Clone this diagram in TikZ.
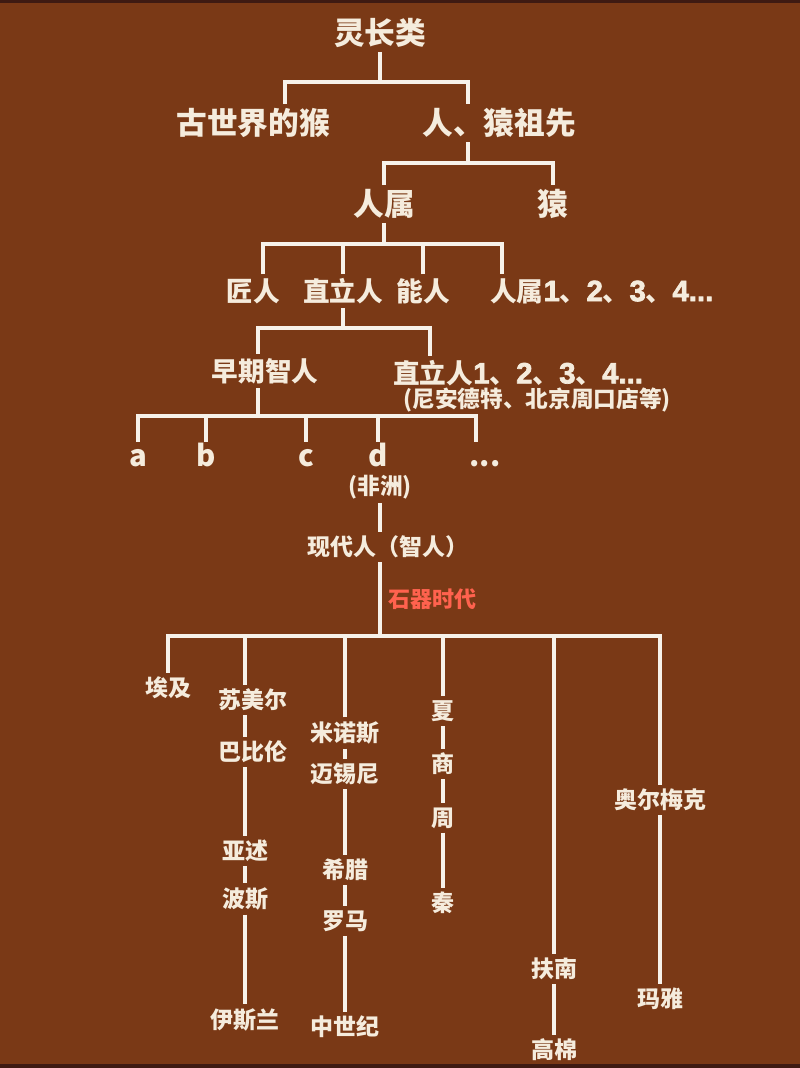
\documentclass[tikz,border=0pt]{standalone}
\usepackage{fontspec}
\setmainfont{Noto Sans CJK SC}
\newfontfamily\digitfont[FakeBold=2.4]{Liberation Sans}
\newcommand{\latinbold}[1]{{\digitfont\fontsize{22pt}{24pt}\selectfont #1}}
\definecolor{brownbg}{HTML}{7A3916}
\definecolor{edgebrown}{HTML}{3E1A12}
\definecolor{cream}{HTML}{F5ECDD}
\definecolor{linecol}{HTML}{F7F2EA}
\definecolor{stonered}{HTML}{FF624E}
\begin{document}
\begin{tikzpicture}[x=0.75pt,y=-0.75pt,line join=miter]
	\tikzset{every node/.style={text=cream,inner sep=3pt},
		lvbig/.style={font=\fontsize{23pt}{26pt}\selectfont\bfseries},
		lvmid/.style={font=\fontsize{20pt}{24pt}\selectfont\bfseries},
		lvnote/.style={font=\fontsize{17pt}{20pt}\selectfont\bfseries},
		letternode/.style={font=\fontsize{22pt}{24pt}\selectfont\bfseries,text height=15pt,text depth=0pt},
		era/.style={font=\fontsize{17.25pt}{20pt}\selectfont\bfseries},
		stage/.style={font=\fontsize{16.5pt}{20pt}\selectfont\bfseries,text=stonered},
		link/.style={draw=linecol,line width=2.3pt}}
	\fill[brownbg] (0,0) rectangle (800,1068);
	\fill[edgebrown] (0,0) rectangle (800,3);
	\fill[edgebrown] (0,1064) rectangle (800,1068);
	\useasboundingbox (0,0) rectangle (800,1068);
	% upper tree
	\node[lvbig] (primate) at (380,33) {灵长类};
	\node[lvbig] (monkey) at (253,123) {古世界的猴};
	\node[lvbig] (ancestor) at (499,123) {人、猿祖先};
	\node[lvbig] (homo) at (384,204) {人属};
	\node[lvbig] (ape) at (553,204) {猿};
	\coordinate (b1) at (380,82);
	\coordinate (b2) at (468,163);
	\coordinate (b3) at (384,244);
	\draw[link] (primate) -- (b1);
	\draw[link] (monkey.north -| 285,0) |- (b1) -| (ancestor.north -| b2);
	\draw[link] (ancestor.south -| b2) -- (b2);
	\draw[link] (homo.north) |- (b2) -| (ape.north);
	\draw[link] (homo) -- (b3);
	\node[lvmid] (jiang) at (253,291) {匠人};
	\node[lvmid] (erectus) at (343,291) {直立人};
	\node[lvmid] (habilis) at (423,291) {能人};
	\node[lvmid,anchor=west] (homos) at (486,291) {人属\latinbold{1}、\latinbold{2}、\latinbold{3}、\latinbold{4...}};
	\draw[link] (jiang.north -| 263,0) |- (b3) -| (homos.north -| 502,0);
	\foreach \n in {erectus,habilis}
	\draw[link] (\n.north) -- (\n.north |- b3);
	\coordinate (b4) at (343,328);
	\draw[link] (erectus) -- (b4);
	\node[lvmid] (early) at (265,371) {早期智人};
	\node[lvmid,anchor=west] (erectus2) at (389,373) {直立人\latinbold{1}、\latinbold{2}、\latinbold{3}、\latinbold{4...}};
	\node[lvnote,anchor=west] (note) at (399,400) {(尼安德特、北京周口店等)};
	\draw[link] (early.north -| 258,0) |- (b4) -| (erectus2.north -| 430,0);
	\coordinate (b5) at (258,416);
	\draw[link] (early.south -| b5) -- (b5);
	\node[letternode] (pa) at (138,456) {a};
	\node[letternode] (pb) at (206,456) {b};
	\node[letternode] (pc) at (306,456) {c};
	\node[letternode] (pd) at (378,456) {d};
	\node[letternode] (pmore) at (485,456) {...};
	\draw[link] (pa.north) |- (b5) -| (pmore.north -| 476,0);
	\foreach \n in {pb,pc,pd}
	\draw[link] (\n.north) -- (\n.north |- b5);
	\node[lvnote] (africa) at (380,487) {(非洲)};
	\node[era] (modern) at (388,547) {现代人（智人）};
	\draw[link] (africa.south) -- (africa.south |- modern.north);
	\coordinate (b6) at (380,636);
	\draw[link] (modern.south -| b6) -- node[stage,right,xshift=2pt] {石器时代} (b6);
	% civilisations
	\node[era] (egypt) at (168,688) {埃及};
	\node[era] (sumer) at (253,700) {苏美尔};
	\node[era] (babylon) at (253,752) {巴比伦};
	\node[era] (assyria) at (245,851) {亚述};
	\node[era] (persia) at (245,899) {波斯};
	\node[era] (islam) at (245,1020) {伊斯兰};
	\node[era] (minos) at (345,733) {米诺斯};
	\node[era] (mycenae) at (345,774) {迈锡尼};
	\node[era] (greece) at (345,870) {希腊};
	\node[era] (rome) at (345,921) {罗马};
	\node[era] (medieval) at (345,1027) {中世纪};
	\node[era] (xia) at (443,711) {夏};
	\node[era] (shang) at (443,764) {商};
	\node[era] (zhou) at (443,818) {周};
	\node[era] (qin) at (443,903) {秦};
	\node[era] (funan) at (554,969) {扶南};
	\node[era] (khmer) at (554,1050) {高棉};
	\node[era] (olmec) at (660,800) {奥尔梅克};
	\node[era] (maya) at (660,999) {玛雅};
	\coordinate (c2) at (245,636);
	\draw[link] (egypt.north) |- (b6) -| (olmec.north);
	\draw[link] (sumer.north -| c2) -- (c2);
	\foreach \n in {minos,xia,funan}
	\draw[link] (\n.north) -- (\n.north |- b6);
	\foreach \u/\v in {sumer/babylon,babylon/assyria,assyria/persia,persia/islam}
	\draw[link] (\u.south -| c2) -- (\v.north -| c2);
	\foreach \u/\v in {minos/mycenae,mycenae/greece,greece/rome,rome/medieval,xia/shang,shang/zhou,zhou/qin,funan/khmer,olmec/maya}
	\draw[link] (\u) -- (\v);
\end{tikzpicture}
\end{document}
